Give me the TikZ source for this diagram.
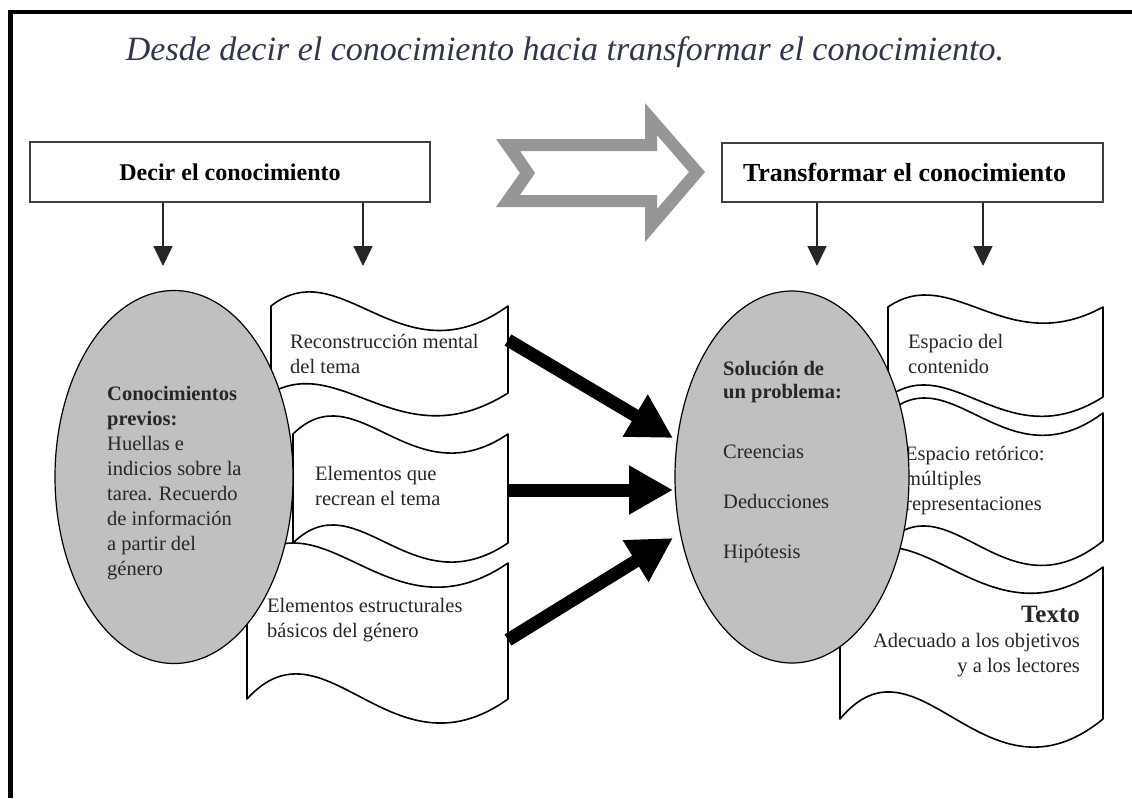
\documentclass[tikz,border=0pt]{standalone}
\usepackage{fontspec}
\setmainfont{Liberation Serif}
\usetikzlibrary{shapes.geometric,arrows.meta}
\definecolor{ellgray}{RGB}{192,192,192}
\definecolor{hollowgray}{RGB}{150,150,150}
\definecolor{titlecol}{RGB}{48,54,76}
\definecolor{txtcol}{RGB}{38,38,38}
\newcommand\tsz{\fontsize{20.5}{25}\selectfont}
% #1 x0, #2 x1, #3 ytop, #4 ybot, #5 crest top, #6 trough top, #7 crest bottom, #8 trough bottom
\newcommand\wavebox[8]{%
  \pgfmathsetmacro\wW{#2-#1}%
  \draw[banner] (#1,#3)
    .. controls ({#1+0.3*\wW},{#3-2.78*#5-0.695*#6}) and ({#1+0.55*\wW},{#3+2.78*#6+0.695*#5}) .. (#2,#3)
    -- (#2,#4)
    .. controls ({#1+0.55*\wW},{#4+2.78*#8+0.695*#7}) and ({#1+0.3*\wW},{#4-2.78*#7-0.695*#8}) .. (#1,#4)
    -- cycle;}
\begin{document}
\begin{tikzpicture}[x=1pt,y=-1pt,
  banner/.style={draw=black,fill=white,line width=1.6pt,line join=round},
  topbox/.style={draw=black!75,fill=white,line width=2pt,inner sep=0pt,font=\fontsize{24}{28}\selectfont\bfseries},
  ellbox/.style={ellipse,draw=black,line width=1.2pt,fill=ellgray,inner sep=0pt},
  txt/.style={inner sep=0pt,anchor=north west,align=left,font=\tsz,text=txtcol},
  thinarr/.style={draw=black!85,line width=1.5pt,-{Triangle[length=20pt,width=19pt]}},
  thickarr/.style={draw=black,line width=13pt,-{Triangle[length=44pt,width=46pt]}},
  hollow/.style={fill=hollowgray,even odd rule}]
\useasboundingbox (0,0) rectangle (1132,798);
\fill[white] (0,0) rectangle (1132,798);
% frame
\draw[line width=4.8pt,line join=miter] (10.3,798) -- (10.3,12) -- (1132,12);
% title
\node[anchor=base,inner sep=0pt,font=\fontsize{34}{40}\selectfont\itshape,text=titlecol] (title) at (565,60)
  {Desde decir el conocimiento hacia transformar el conocimiento.};
% top boxes
\node[topbox,minimum width=400pt,minimum height=60pt] (boxL) at (230,172) {Decir el conocimiento};
\node[topbox,minimum width=381pt,minimum height=59pt,font=\fontsize{26}{30}\selectfont\bfseries] (boxR) at (912.5,172.5) {\kern-16pt Transformar el conocimiento};
% hollow arrow
\path[hollow] (496,139) -- (645,139) -- (645,103) -- (705,172) -- (645,242) -- (645,207) -- (496,207) -- (520,173) -- cycle
  (520,151) -- (657,151) -- (657,135) -- (689,172) -- (657,209) -- (657,195) -- (520,195) -- (535,173) -- cycle;
% thin arrows
\coordinate (aL1) at (163,266);
\coordinate (aL2) at (363,266);
\coordinate (aR1) at (817,266);
\coordinate (aR2) at (983,266);
\draw[thinarr] (aL1 |- boxL.south) -- (aL1);
\draw[thinarr] (aL2 |- boxL.south) -- (aL2);
\draw[thinarr] (aR1 |- boxR.south) -- (aR1);
\draw[thinarr] (aR2 |- boxR.south) -- (aR2);
% left banners
\wavebox{271}{508}{306}{393}{14}{24}{9}{22}
\node[txt] (tL1) at (290,330.5) {\strut Reconstrucción mental\\del tema};
\wavebox{293}{508}{434}{543}{18}{19}{18}{19}
\node[txt] (tL2) at (315,462.5) {\strut Elementos que\\recrean el tema};
\wavebox{247}{508}{563}{699}{20}{24}{25}{24}
\node[txt] (tL3) at (267,594.5) {\strut Elementos estructurales\\básicos del género};
% right banners
\wavebox{888}{1103}{307}{397}{12}{16}{12}{19}
\node[txt] (tR1) at (908,330.5) {\strut Espacio del\\contenido};
\wavebox{888}{1103}{413}{541}{15}{22}{15}{24}
\node[txt] (tR2) at (905,442.5) {\strut Espacio retórico:\\múltiples\\representaciones};
\wavebox{840}{1103}{567}{719}{20}{26}{27}{28}
\node[txt,anchor=north east,align=right] (tR3) at (1080,601)
  {{\fontsize{25}{30}\selectfont\bfseries\strut Texto}\\Adecuado a los objetivos\\y a los lectores};
% ellipses
\node[ellbox,minimum width=238pt,minimum height=373pt] (ellL) at (174,477) {};
\node[ellbox,minimum width=234pt,minimum height=372pt] (ellR) at (792,477) {};
\node[txt] (tEL) at (107,382.5) {\strut\textbf{Conocimientos}\\\textbf{previos:}\\Huellas e\\indicios sobre la\\tarea. Recuerdo\\de información\\a partir del\\género};
\node[txt] (tER) at (723,357.5) {\strut\textbf{Solución de}\\[-2pt]\textbf{un problema:}\\[35pt]Creencias\\[25pt]Deducciones\\[25pt]Hipótesis};
% thick arrows
\coordinate (L1r) at (508,340);
\coordinate (L2r) at (508,490);
\coordinate (L3r) at (508,640);
\coordinate (in1) at (673,438);
\coordinate (in2) at (673,490);
\coordinate (in3) at (673,538);
\draw[thickarr] (L1r) -- (in1);
\draw[thickarr] (L2r) -- (in2);
\draw[thickarr] (L3r) -- (in3);
\end{tikzpicture}
\end{document}
